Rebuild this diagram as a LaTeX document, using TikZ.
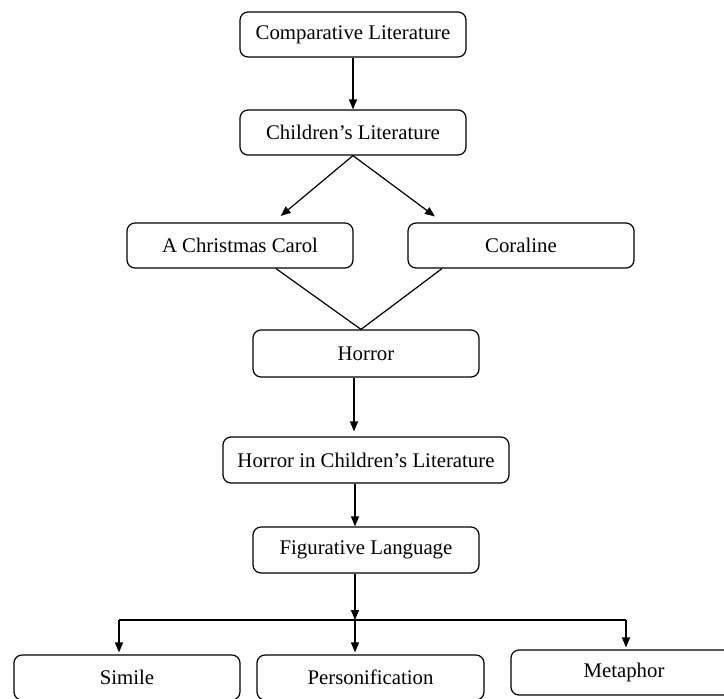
\documentclass[tikz,border=0pt]{standalone}
\usepackage{fontspec}
\setmainfont{Liberation Serif}
\usetikzlibrary{arrows.meta}

\begin{document}
\begin{tikzpicture}[x=0.5pt,y=-0.5pt,
    box/.style={draw,rounded corners=4pt,line width=0.6pt,minimum width=113pt,
      minimum height=22.5pt,inner sep=0pt,font=\fontsize{10.4}{12}\selectfont},
    arr/.style={draw,line width=0.6pt,-{Triangle[width=4pt,length=5pt]}},
    link/.style={draw,line width=0.6pt}]
              %\draw[help lines,step=50](0,0) grid(724,698);
              \useasboundingbox (0,0) rectangle (724,698);
              \clip (0,0) rectangle (724,698);
              \node[box] (comp) at (353,34.5) {Comparative Literature};
              \node[box] (child) at (353,132.5) {Children’s Literature};
              \node[box] (carol) at (240,245.5) {A Christmas Carol};
              \node[box] (coral) at (521,245.5) {Coraline};
              \node[box,minimum height=23.5pt] (horror) at (366,353.5) {Horror};
              \node[box,minimum width=143pt,minimum height=23pt] (hic) at (366,460) {Horror in Children’s Literature};
              \node[box,minimum height=23pt] (fig) at (366,550) {Figurative Language};
              \node[box] (simile) at (127,677.5) {Simile};
              \node[box,minimum width=113.5pt] (pers) at (370.5,677.5) {Personification};
              \node[box] (meta) at (624,672.5) {Metaphor};
              \coordinate (split) at (355,620);
              \coordinate (barL) at (119,620);
              \coordinate (barR) at (626,620);
              \draw[arr] (comp) -- (child);
              \draw[arr,shorten >=5pt] (child.south) -- ([xshift=16.5pt]carol.north);
              \draw[arr,shorten >=5pt] (child.south) -- ([xshift=-39pt]coral.north);
              \path[link] ([xshift=18pt]carol.south) -- ([xshift=-2.5pt]horror.north);
              \path[link] ([xshift=-39.5pt]coral.south) -- ([xshift=-2.5pt]horror.north);
              \draw[arr,shorten >=2.5pt] ([xshift=-6pt]horror.south) -- ([xshift=-6pt]horror.south |- hic.north);
              \draw[arr] ([xshift=-5.5pt]hic.south) -- ([xshift=-5.5pt]hic.south |- fig.north);
              \draw[arr] ([xshift=-5.5pt]fig.south) -- (split);
              \path[link] (barL) -- (barR);
              \draw[arr,shorten >=1pt] (barL) -- (barL |- simile.north);
              \draw[arr,shorten >=1pt] (split) -- (split |- pers.north);
              \draw[arr,shorten >=1pt] (barR) -- (barR |- meta.north);
            \end{tikzpicture}
\end{document}
